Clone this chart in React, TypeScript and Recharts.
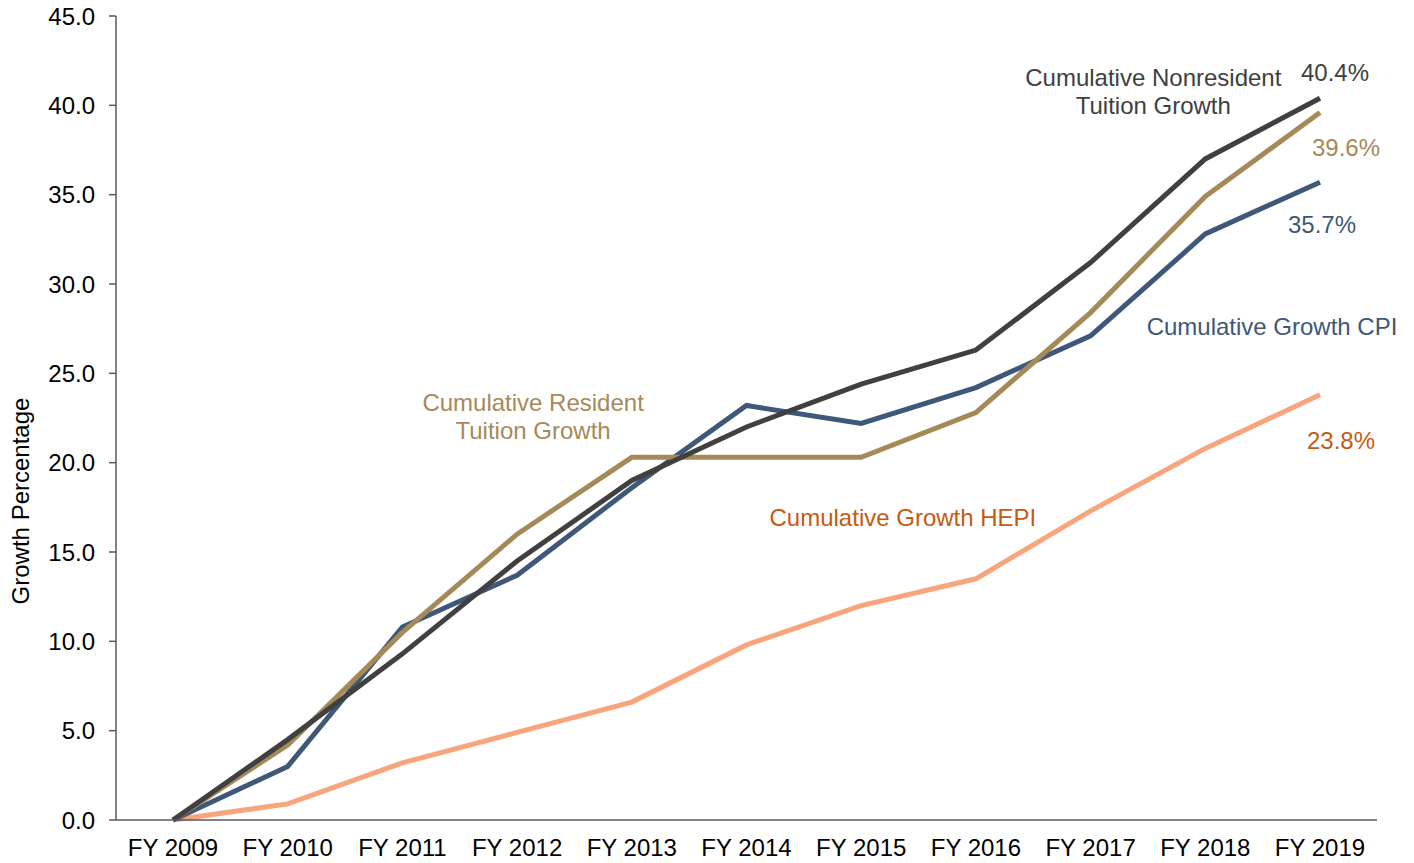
import { LineChart, Line, XAxis, YAxis, ReferenceDot, LabelList, Label } from "recharts";

const years = ["FY 2009", "FY 2010", "FY 2011", "FY 2012", "FY 2013", "FY 2014", "FY 2015", "FY 2016", "FY 2017", "FY 2018", "FY 2019"];

const nonresident = [0, 4.5, 9.3, 14.5, 19.0, 22.0, 24.4, 26.3, 31.2, 37.0, 40.4];
const resident = [0, 4.2, 10.5, 16.0, 20.3, 20.3, 20.3, 22.8, 28.4, 34.9, 39.6];
const cpi = [0, 3.0, 10.8, 13.7, 18.6, 23.2, 22.2, 24.2, 27.1, 32.8, 35.7];
const hepi = [0, 0.9, 3.2, 4.9, 6.6, 9.8, 12.0, 13.5, 17.3, 20.8, 23.8];

const yTicks = [0, 5, 10, 15, 20, 25, 30, 35, 40, 45];

const data = years.map((fy, i) => ({
  fy,
  nonresident: nonresident[i],
  resident: resident[i],
  cpi: cpi[i],
  hepi: hepi[i],
}));

const FONT = "'Liberation Sans', Arial, sans-serif";

type Series = { key: string; color: string; textColor: string; dx: number; dy: number };

const series: Series[] = [
  { key: "hepi", color: "#F8A47C", textColor: "#C55A11", dx: 21, dy: 46 },
  { key: "cpi", color: "#3D5878", textColor: "#3D5878", dx: 2, dy: 42 },
  { key: "resident", color: "#A68958", textColor: "#A68958", dx: 26, dy: 35 },
  { key: "nonresident", color: "#404040", textColor: "#404040", dx: 15, dy: -26 },
];

type Note = { lines: string[]; x: string; y: number; dx: number; color: string };

const notes: Note[] = [
  { lines: ["Cumulative Nonresident", "Tuition Growth"], x: "FY 2018", y: 41.6, dx: -52, color: "#404040" },
  { lines: ["Cumulative Growth CPI"], x: "FY 2019", y: 27.65, dx: -48, color: "#3D5878" },
  { lines: ["Cumulative Resident", "Tuition Growth"], x: "FY 2012", y: 23.4, dx: 16, color: "#A68958" },
  { lines: ["Cumulative Growth HEPI"], x: "FY 2016", y: 16.96, dx: -73, color: "#C55A11" },
];

function lastLabel(s: Series) {
  return (props: any) => {
    if (props.index !== years.length - 1) return null;
    return (
      <text
        x={props.x + s.dx}
        y={props.y + s.dy}
        textAnchor="middle"
        dominantBaseline="central"
        fill={s.textColor}
        fontSize={24}
        fontFamily={FONT}
      >
        {Number(props.value).toFixed(1)}%
      </text>
    );
  };
}

function noteLabel(n: Note) {
  return (props: any) => {
    const vb = props.viewBox || {};
    const cx = (vb.x ?? 0) + (vb.width ?? 0) / 2 + n.dx;
    const cy = (vb.y ?? 0) + (vb.height ?? 0) / 2;
    return (
      <text textAnchor="middle" dominantBaseline="central" fill={n.color} fontSize={24} fontFamily={FONT}>
        {n.lines.map((ln, i) => (
          <tspan key={i} x={cx} y={cy + i * 28}>
            {ln}
          </tspan>
        ))}
      </text>
    );
  };
}

function yTitle() {
  return (
    <text
      x={0}
      y={0}
      transform="translate(20,501) rotate(-90)"
      textAnchor="middle"
      dominantBaseline="central"
      fill="#000"
      fontSize={24}
      fontFamily={FONT}
    >
      Growth Percentage
    </text>
  );
}

export default function App() {
  return (
    <div style={{ position: "absolute", left: 0, top: 0, width: 1414, height: 863, background: "#fff" }}>
      <LineChart width={1414} height={863} data={data} margin={{ top: 16, right: 37, left: 0, bottom: 0 }}>
        <XAxis
          dataKey="fy"
          height={43}
          padding={{ left: 57, right: 57 }}
          axisLine={{ stroke: "#595959", strokeWidth: 1.5 }}
          tickLine={false}
          tickSize={0}
          tickMargin={19}
          tick={{ fontSize: 24, fill: "#000", fontFamily: FONT }}
          interval={0}
        />
        <YAxis
          width={116}
          domain={[0, 45]}
          ticks={yTicks}
          tickFormatter={(v: number) => v.toFixed(1)}
          axisLine={{ stroke: "#595959", strokeWidth: 1.5 }}
          tickLine={{ stroke: "#595959", strokeWidth: 1.5 }}
          tickSize={7}
          tickMargin={14}
          tick={{ fontSize: 24, fill: "#000", fontFamily: FONT }}
        >
          <Label content={yTitle} />
        </YAxis>
        {series.map((s) => (
          <Line
            key={s.key}
            type="linear"
            dataKey={s.key}
            stroke={s.color}
            strokeWidth={5}
            dot={false}
            activeDot={false}
            isAnimationActive={false}
          >
            <LabelList dataKey={s.key} content={lastLabel(s)} />
          </Line>
        ))}
        {notes.map((n, i) => (
          <ReferenceDot key={i} x={n.x} y={n.y} r={0} fill="none" stroke="none" label={noteLabel(n)} />
        ))}
      </LineChart>
    </div>
  );
}
